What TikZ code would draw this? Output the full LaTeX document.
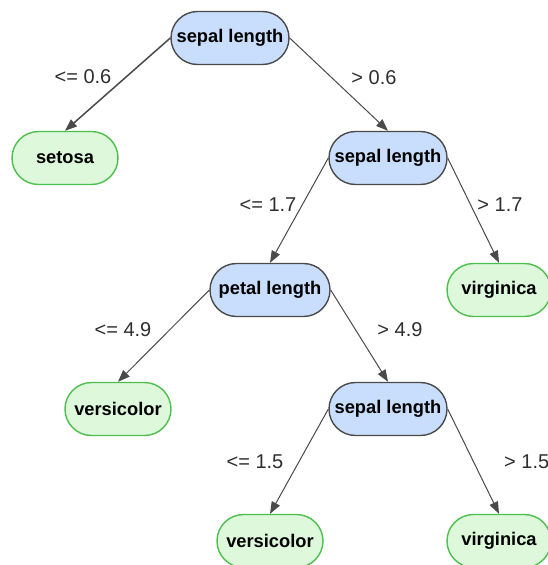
\documentclass[tikz,border=0pt]{standalone}
\usepackage{fontspec}
\setmainfont{Liberation Sans}
\usetikzlibrary{arrows.meta}
\definecolor{splitfill}{HTML}{C9DEFC}
\definecolor{splitline}{HTML}{4A4A4A}
\definecolor{leaffill}{HTML}{DDF8DB}
\definecolor{leafline}{HTML}{4DBF4D}
\definecolor{edgecol}{HTML}{4A4A4A}
\definecolor{labcol}{HTML}{2E2E2E}
\begin{document}
\begin{tikzpicture}[x=1pt,y=-1pt,
  split/.style={draw=splitline, fill=splitfill, line width=1.4pt,
    rounded corners=26.5pt, minimum width=118pt, minimum height=53pt,
    inner sep=0pt, font=\fontsize{18.3}{21}\selectfont\bfseries},
  leaf/.style={draw=leafline, fill=leaffill, line width=1.4pt,
    rounded corners=26.5pt, minimum width=106pt, minimum height=53pt,
    inner sep=0pt, font=\fontsize{18.3}{21}\selectfont\bfseries},
  edge/.style={draw=edgecol, line width=1pt,
    -{Triangle[length=12pt,width=9pt]}},
  cond/.style={text=labcol, font=\fontsize{20}{23}\selectfont, inner sep=0pt}]
\useasboundingbox (0,0) rectangle (547,565);

% decision nodes
\node[split] (root) at (230,38) {sepal length};
\node[split] (s2) at (388,158) {sepal length};
\node[split, minimum width=120pt] (p1) at (270,290) {petal length};
\node[split] (s3) at (388,409) {sepal length};

% leaves
\node[leaf] (setosa) at (65,158) {setosa};
\node[leaf, minimum width=104pt] (virg1) at (499,290) {virginica};
\node[leaf] (vers1) at (118,409) {versicolor};
\node[leaf] (vers2) at (270,541) {versicolor};
\node[leaf, minimum width=104pt] (virg2) at (499,541) {virginica};

% branches
\draw[edge, line width=1.5pt] (root.west) -- (setosa.north);
\draw[edge] (root.east) -- (s2.north);
\draw[edge] (s2.west) -- (p1.north);
\draw[edge] (s2.east) -- (virg1.north);
\draw[edge] (p1.west) -- (vers1.north);
\draw[edge] (p1.east) -- (s3.north);
\draw[edge] (s3.west) -- (vers2.north);
\draw[edge] (s3.east) -- (virg2.north);

% branch conditions
\node[cond] (c1) at (83,77) {<= 0.6};
\node[cond] (c2) at (374,78) {> 0.6};
\node[cond] (c3) at (268,205) {<= 1.7};
\node[cond] (c4) at (500,205) {> 1.7};
\node[cond] (c5) at (123,330) {<= 4.9};
\node[cond] (c6) at (400,330) {> 4.9};
\node[cond] (c7) at (255,462) {<= 1.5};
\node[cond, anchor=west] (c8) at (504,462) {> 1.5};
\end{tikzpicture}
\end{document}
